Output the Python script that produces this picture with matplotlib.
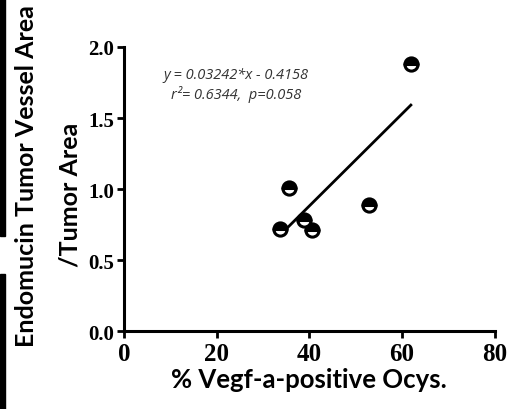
import matplotlib
matplotlib.use("Agg")
import matplotlib.pyplot as plt
from matplotlib.patches import Rectangle
import numpy as np

# % Vegf-a-positive osteocytes vs vessel area ratio
vegf_pct = [33.7, 35.7, 38.8, 40.5, 52.9, 61.9]
vessel_ratio = [0.72, 1.01, 0.78, 0.71, 0.89, 1.88]
slope = 0.03242
intercept = -0.4158
x_ticks = [0, 20, 40, 60, 80]
y_ticks = [0.0, 0.5, 1.0, 1.5, 2.0]

fig = plt.figure(figsize=(5.23, 4.10), dpi=100)
ax = fig.add_axes([0.237, 0.19, 0.709, 0.693])

# black bars on the left edge (cropped remnants)
fig.patches.append(Rectangle((0, 1 - 237 / 410), 4.5 / 523, 237 / 410,
                             transform=fig.transFigure, color="black"))
fig.patches.append(Rectangle((0, 0), 5 / 523, 135 / 410,
                             transform=fig.transFigure, color="black"))

fit_x = np.array([min(vegf_pct), max(vegf_pct)])
ax.plot(fit_x, slope * fit_x + intercept, color="black", lw=2, zorder=2)
ax.plot(vegf_pct, vessel_ratio, "o", ms=9.5, fillstyle="top",
        markerfacecolor="black", markerfacecoloralt="white",
        markeredgecolor="black", markeredgewidth=2.2, zorder=3)

ax.set_xlim(0, 80)
ax.set_ylim(0, 2.0)
ax.set_xticks(x_ticks)
ax.set_yticks(y_ticks)
ax.set_xticklabels([str(v) for v in x_ticks])
ax.set_yticklabels([f"{v:.1f}" for v in y_ticks])
for s in ["top", "right"]:
    ax.spines[s].set_visible(False)
for s in ["left", "bottom"]:
    ax.spines[s].set_linewidth(2.2)
ax.tick_params(direction="out", length=5, width=2)
ax.tick_params(axis="x", pad=3)
ax.tick_params(axis="y", pad=2)
for lab in ax.get_xticklabels():
    lab.set_fontfamily("Liberation Serif")
    lab.set_fontweight("bold")
    lab.set_fontsize(18)
for lab in ax.get_yticklabels():
    lab.set_fontfamily("Liberation Serif")
    lab.set_fontweight("bold")
    lab.set_fontsize(15)

ax.set_xlabel("% Vegf-a-positive Ocys.", fontfamily="Lato",
              fontweight="bold", fontsize=18.5, labelpad=1)
fig.text(27 / 523, 1 - 176 / 410, "Endomucin Tumor Vessel Area", rotation=90,
         ha="center", va="center", fontfamily="Lato", fontweight="bold",
         fontsize=18)
fig.text(70 / 523, 1 - 195 / 410, "/Tumor Area", rotation=90,
         ha="center", va="center", fontfamily="Lato", fontweight="bold",
         fontsize=18)

ax.text(0.302, 0.868, f"y = {slope}*x - {abs(intercept)}\nr\u00b2= 0.6344,  p=0.058",
        transform=ax.transAxes, ha="center", va="center", multialignment="center",
        fontfamily="Open Sans", fontstyle="italic", fontsize=10.5, color="#333333",
        linespacing=1.2)

fig.savefig("out.png", dpi=100)
